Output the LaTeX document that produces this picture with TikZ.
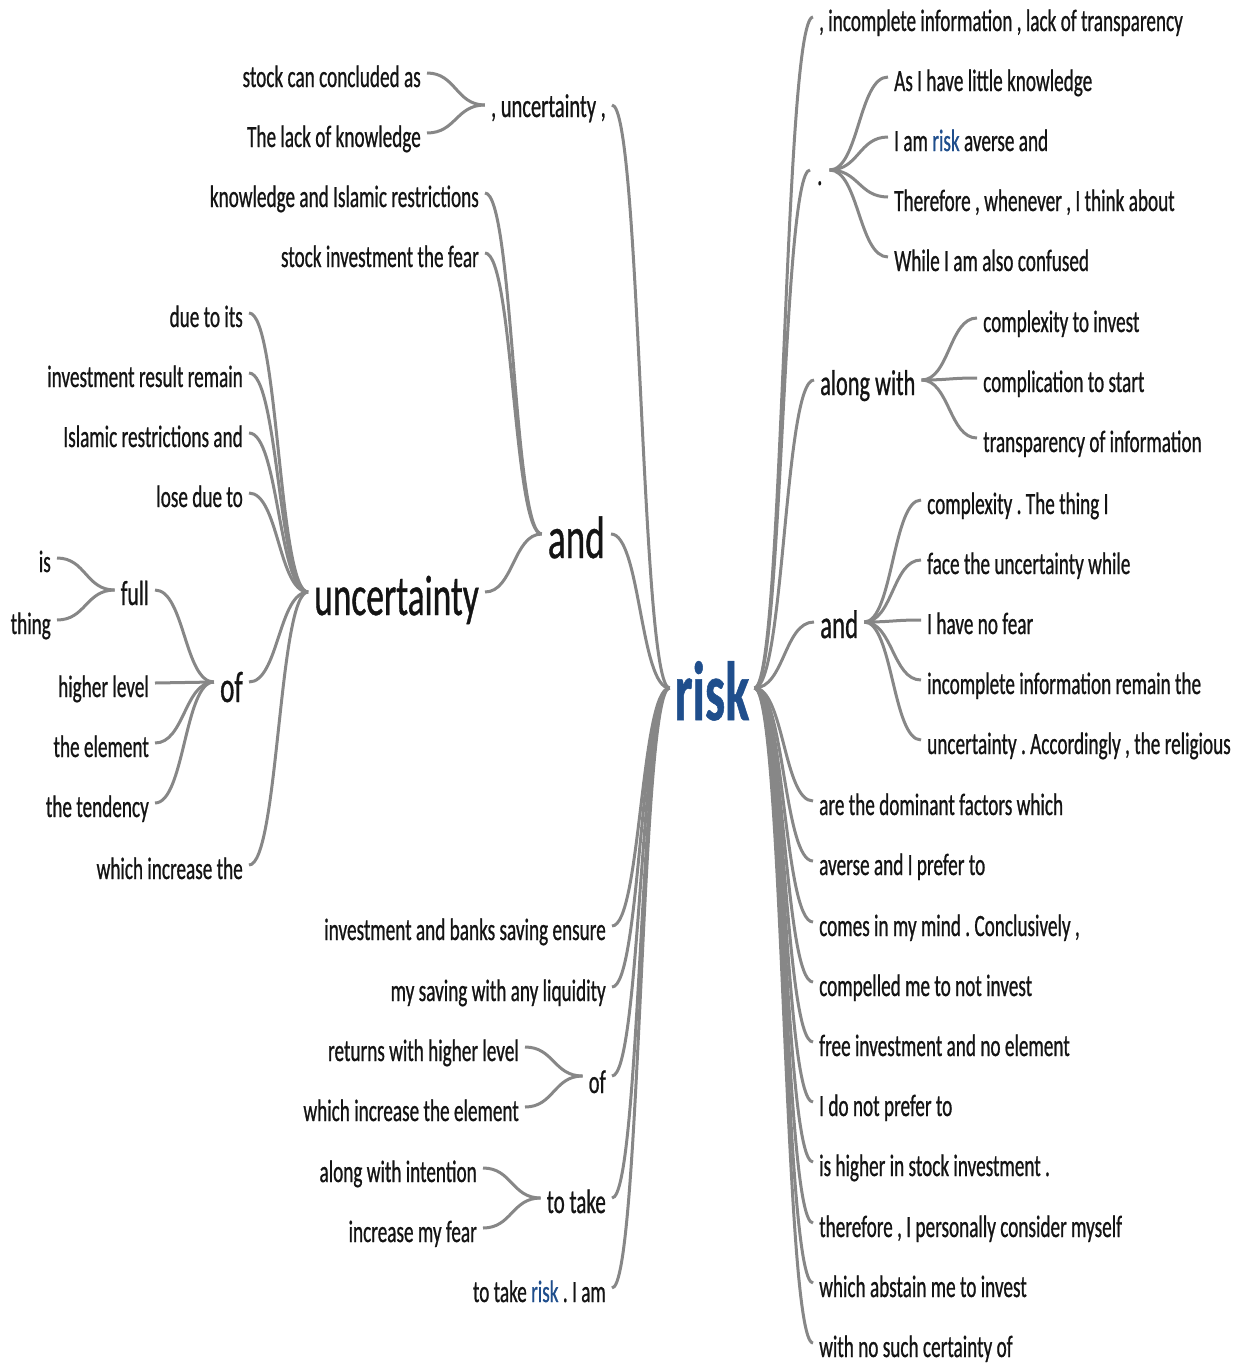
\documentclass[tikz,border=0pt]{standalone}
\usepackage{fontspec}
\setmainfont{Carlito}[FakeStretch=0.62,FakeBold=0.7]
\newfontfamily\rootfont{Carlito}[FakeStretch=0.6,FakeBold=0.6,UprightFont=* Bold]
\usetikzlibrary{calc}
\definecolor{linkgray}{HTML}{878787}
\definecolor{riskblue}{HTML}{1F4E8C}
\definecolor{ink}{HTML}{141414}
\tikzset{
  word/.style={inner ysep=0pt, inner xsep=6pt, text=ink, text depth=0pt},
  fs/.style={font=\fontsize{#1}{#1}\selectfont},
  leafR/.style={word, fs=31, text height=28pt, anchor=west},
  leafL/.style={word, fs=31, text height=28pt, anchor=east},
  link/.style={draw=linkgray, line width=3pt},
}
% word-tree branch: leaves each end horizontally, bends at the mid column
\newcommand\wlink[2]{\draw[link] let \p1=(#1), \p2=(#2) in (\p1) .. controls ({0.5*\x1+0.5*\x2},\y1) and ({0.5*\x1+0.5*\x2},\y2) .. (\p2);}
\newcommand\hl[1]{\textcolor{riskblue}{#1}}
\frenchspacing
\begin{document}
\begin{tikzpicture}[x=1pt,y=-1pt]
\useasboundingbox (0,0) rectangle (1245,1365);

% root
\node[word, font=\rootfont\fontsize{84}{84}\selectfont, text=riskblue, text height=64pt, inner xsep=5pt] (risk) at (712,688) {risk};

% ---------- right-hand branches ----------
\node[leafR] (r1) at (813,17) {, incomplete information , lack of transparency};
\node[word, fs=33, text height=30pt, anchor=west, inner xsep=7pt] (rdot) at (810,170) {.};
\node[leafR] (rd1) at (888,77) {As I have little knowledge};
\node[leafR] (rd2) at (888,137) {I am \hl{risk} averse and};
\node[leafR] (rd3) at (888,197) {Therefore , whenever , I think about};
\node[leafR] (rd4) at (888,257) {While I am also confused};

\node[word, fs=36, text height=30pt, anchor=west] (ralong) at (814,380) {along with};
\node[leafR] (ra1) at (977,318) {complexity to invest};
\node[leafR] (ra2) at (977,378) {complication to start};
\node[leafR] (ra3) at (977,438) {transparency of information};

\node[word, fs=40, text height=32pt, anchor=west] (rand) at (814,622) {and};
\node[leafR] (rn1) at (921,500) {complexity . The thing I};
\node[leafR] (rn2) at (921,560) {face the uncertainty while};
\node[leafR] (rn3) at (921,620) {I have no fear};
\node[leafR] (rn4) at (921,680) {incomplete information remain the};
\node[leafR] (rn5) at (921,740) {uncertainty . Accordingly , the religious};

\node[leafR] (rl1) at (813,801) {are the dominant factors which};
\node[leafR] (rl2) at (813,861) {averse and I prefer to};
\node[leafR] (rl3) at (813,922) {comes in my mind . Conclusively ,};
\node[leafR] (rl4) at (813,982) {compelled me to not invest};
\node[leafR] (rl5) at (813,1042) {free investment and no element};
\node[leafR] (rl6) at (813,1102) {I do not prefer to};
\node[leafR] (rl7) at (813,1162) {is higher in stock investment .};
\node[leafR] (rl8) at (813,1223) {therefore , I personally consider myself};
\node[leafR] (rl9) at (813,1283) {which abstain me to invest};
\node[leafR] (rl10) at (813,1343) {with no such certainty of};

% ---------- left-hand branches ----------
\node[word, fs=33, text height=24pt, anchor=east] (lunc) at (612,105) {, uncertainty ,};
\node[leafL] (lu1) at (427,73) {stock can concluded as};
\node[leafL] (lu2) at (427,133) {The lack of knowledge};

\node[word, fs=60, text height=48pt, anchor=east] (land) at (611,534) {and};
\node[leafL] (la1) at (485,193) {knowledge and Islamic restrictions};
\node[leafL] (la2) at (485,253) {stock investment the fear};
\node[word, fs=57, text height=46pt, anchor=east] (lunc2) at (485,592) {uncertainty};
\node[leafL] (lx1) at (249,313) {due to its};
\node[leafL] (lx2) at (249,373) {investment result remain};
\node[leafL] (lx3) at (249,433) {Islamic restrictions and};
\node[leafL] (lx4) at (249,493) {lose due to};
\node[word, fs=44, text height=40pt, anchor=east] (lof) at (249,682) {of};
\node[word, fs=35, text height=30pt, anchor=east] (lfull) at (155,590) {full};
\node[leafL] (lis) at (57,558) {is};
\node[leafL] (lthing) at (57,620) {thing};
\node[leafL] (lo2) at (155,683) {higher level};
\node[leafL] (lo3) at (155,743) {the element};
\node[leafL] (lo4) at (155,803) {the tendency};
\node[leafL] (lx6) at (249,865) {which increase the};

\node[leafL] (lb1) at (612,926) {investment and banks saving ensure};
\node[leafL] (lb2) at (612,987) {my saving with any liquidity};
\node[word, fs=33, text height=34pt, anchor=east] (lbof) at (612,1076) {of};
\node[leafL] (lbo1) at (525,1047) {returns with higher level};
\node[leafL] (lbo2) at (525,1107) {which increase the element};
\node[word, fs=34, text height=30pt, anchor=east] (lbtake) at (612,1198) {to take};
\node[leafL] (lbt1) at (483,1168) {along with intention};
\node[leafL] (lbt2) at (483,1228) {increase my fear};
\node[leafL] (lb5) at (612,1288) {to take \hl{risk} . I am};

% ---------- connectors ----------
\foreach \c in {r1,rdot,ralong,rand,rl1,rl2,rl3,rl4,rl5,rl6,rl7,rl8,rl9,rl10}
  {\wlink{risk.east}{\c.west}}
\foreach \c in {rd1,rd2,rd3,rd4} {\wlink{rdot.east}{\c.west}}
\foreach \c in {ra1,ra2,ra3} {\wlink{ralong.east}{\c.west}}
\foreach \c in {rn1,rn2,rn3,rn4,rn5} {\wlink{rand.east}{\c.west}}

\foreach \c in {lunc,land,lb1,lb2,lbof,lbtake,lb5}
  {\wlink{risk.west}{\c.east}}
\foreach \c in {lu1,lu2} {\wlink{lunc.west}{\c.east}}
\foreach \c in {la1,la2,lunc2} {\wlink{land.west}{\c.east}}
\foreach \c in {lx1,lx2,lx3,lx4,lof,lx6} {\wlink{lunc2.west}{\c.east}}
\foreach \c in {lfull,lo2,lo3,lo4} {\wlink{lof.west}{\c.east}}
\foreach \c in {lis,lthing} {\wlink{lfull.west}{\c.east}}
\foreach \c in {lbo1,lbo2} {\wlink{lbof.west}{\c.east}}
\foreach \c in {lbt1,lbt2} {\wlink{lbtake.west}{\c.east}}
\end{tikzpicture}
\end{document}
